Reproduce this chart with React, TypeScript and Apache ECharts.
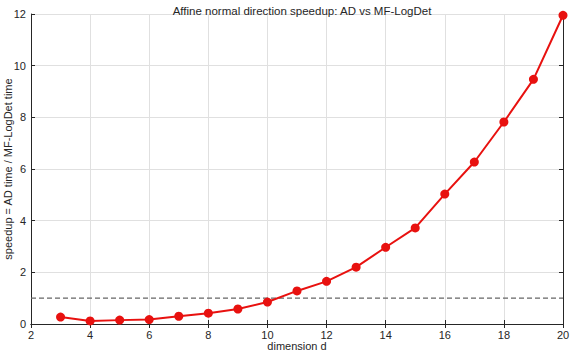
import React, { useEffect, useRef } from "react";
import * as echarts from "echarts";

const dims = [3, 4, 5, 6, 7, 8, 9, 10, 11, 12, 13, 14, 15, 16, 17, 18, 19, 20];
const speedup = [0.27, 0.12, 0.15, 0.17, 0.3, 0.42, 0.58, 0.85, 1.28, 1.65, 2.2, 2.97, 3.72, 5.03, 6.27, 7.82, 9.47, 11.95];
const refLine = [[2, 1], [20, 1]];

const titleText = "Affine normal direction speedup: AD vs MF-LogDet";
const xName = "dimension d";
const yName = "speedup = AD time / MF-LogDet time";

const FONT = "Liberation Sans";
const TXT = "#262626";

export default function App() {
  const ref = useRef<HTMLDivElement>(null);
  useEffect(() => {
    document.body.style.margin = "0";
    if (!ref.current) return;
    const chart = echarts.init(ref.current, undefined, { renderer: "svg" });
    const axisLineStyle = { color: "#262626", width: 1 };
    chart.setOption({
      animation: false,
      backgroundColor: "#ffffff",
      textStyle: { fontFamily: FONT },
      title: {
        text: titleText,
        left: 297,
        textAlign: "center",
        top: 0,
        textStyle: { fontFamily: FONT, fontSize: 11.5, fontWeight: "normal", color: TXT },
      },
      grid: { left: 31, right: 8, top: 14, bottom: 29, containLabel: false, outerBoundsMode: "none" },
      xAxis: [
        {
          type: "value",
          min: 2,
          max: 20,
          interval: 2,
          name: xName,
          nameLocation: "middle",
          nameGap: 16,
          nameMoveOverlap: false,
          nameTextStyle: { fontFamily: FONT, fontSize: 11, color: TXT },
          axisLine: { show: true, lineStyle: axisLineStyle },
          axisTick: { show: true, inside: true, length: 4, lineStyle: axisLineStyle },
          axisLabel: { fontFamily: FONT, fontSize: 11, color: TXT, margin: 5 },
          splitLine: { show: true, lineStyle: { color: "#e0e0e0", width: 1 } },
        },
        {
          type: "value",
          position: "top",
          min: 2,
          max: 20,
          interval: 2,
          axisLine: { show: true, lineStyle: axisLineStyle },
          axisTick: { show: true, inside: true, length: 4, lineStyle: axisLineStyle },
          axisLabel: { show: false },
          splitLine: { show: false },
        },
      ],
      yAxis: [
        {
          type: "value",
          min: 0,
          max: 12,
          interval: 2,
          name: yName,
          nameLocation: "middle",
          nameRotate: 90,
          nameGap: 18,
          nameMoveOverlap: false,
          nameTextStyle: { fontFamily: FONT, fontSize: 11, color: TXT },
          axisLine: { show: true, lineStyle: axisLineStyle },
          axisTick: { show: true, inside: true, length: 4, lineStyle: axisLineStyle },
          axisLabel: { fontFamily: FONT, fontSize: 11, color: TXT, margin: 5 },
          splitLine: { show: true, lineStyle: { color: "#e0e0e0", width: 1 } },
        },
        {
          type: "value",
          position: "right",
          min: 0,
          max: 12,
          interval: 2,
          axisLine: { show: true, lineStyle: axisLineStyle },
          axisTick: { show: true, inside: true, length: 4, lineStyle: axisLineStyle },
          axisLabel: { show: false },
          splitLine: { show: false },
        },
      ],
      series: [
        {
          type: "line",
          data: refLine,
          symbol: "none",
          lineStyle: { color: "#666666", width: 1.3, type: [5, 3] },
          silent: true,
          z: 2,
        },
        {
          type: "line",
          data: dims.map((d, i) => [d, speedup[i]]),
          symbol: "circle",
          symbolSize: 9,
          itemStyle: { color: "#e8110f" },
          lineStyle: { color: "#e8110f", width: 2 },
          z: 3,
        },
      ],
    });
    return () => chart.dispose();
  }, []);
  return <div ref={ref} style={{ width: 571, height: 353 }} />;
}
